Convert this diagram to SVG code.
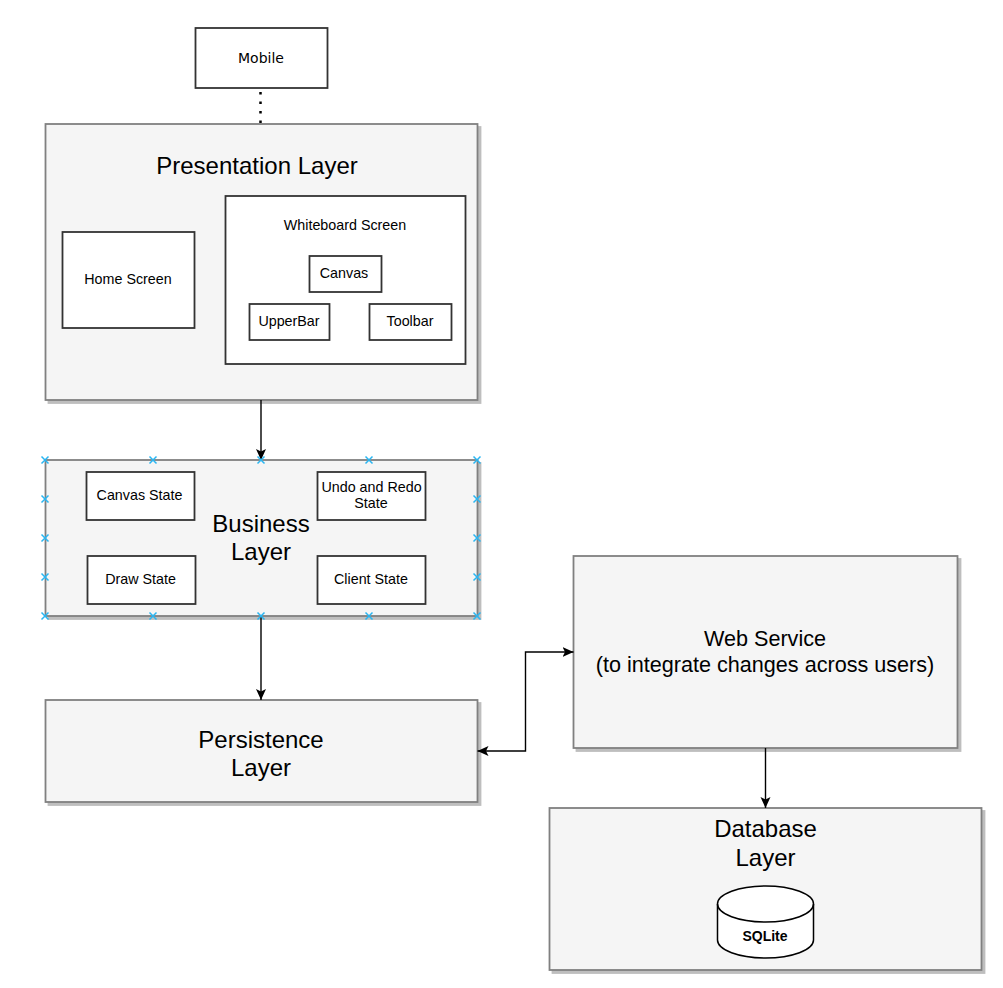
<svg xmlns="http://www.w3.org/2000/svg" width="1003" height="988" viewBox="0 0 1003 988">
<style>
text{font-family:"Liberation Sans",Arial,sans-serif;fill:#000;text-anchor:middle}
.s{font-size:14.300px}
.l{font-size:24px}
.m{font-size:21.600px}
.layer{fill:#f5f5f5;stroke:#808080;stroke-width:1.8}
.shadow{fill:#b3b3b3;stroke:#b3b3b3;stroke-width:1.8;opacity:.85}
.box{fill:#fff;stroke:#333;stroke-width:1.8}
.c{fill:none;stroke:#000;stroke-width:1.4}
.x{stroke:#29b6f2;stroke-width:1.5;fill:none}
</style>
<defs>
<marker id="a" viewBox="0 0 11 11" refX="11" refY="5.500" markerWidth="11" markerHeight="11" markerUnits="userSpaceOnUse" orient="auto-start-reverse"><path d="M0 0.500L11 5.500L0 10.500L2.500 5.500Z" fill="#000"/></marker>
<path id="h" d="M-3.500-3.500L3.500 3.500M-3.500 3.500L3.500-3.500" class="x"/>
</defs>
<rect x="0" y="0" width="1003" height="988" fill="#fff"/>
<g id="mobile"><rect x="195.500" y="28" width="132" height="60" class="box"/><text x="261" y="63" style="font-family:'DejaVu Sans',sans-serif;font-size:14px">Mobile</text></g>
<g id="presentation"><rect x="48.500" y="127" width="432" height="276" class="shadow"/><rect x="45.500" y="124" width="432" height="276" class="layer"/><text x="257" y="174" class="l">Presentation Layer</text></g>
<g id="home"><rect x="62.500" y="232" width="132" height="96" class="box"/><text x="128" y="284" class="s">Home Screen</text></g>
<g id="whiteboard"><rect x="225.500" y="196" width="240" height="168" class="box"/><text x="345" y="230" class="s">Whiteboard Screen</text></g>
<g id="canvas"><rect x="309.500" y="256" width="72" height="36" class="box"/><text x="344" y="278" class="s">Canvas</text></g>
<g id="upperbar"><rect x="249.500" y="304" width="80" height="36" class="box"/><text x="289" y="326" class="s">UpperBar</text></g>
<g id="toolbar"><rect x="369.500" y="304" width="82" height="36" class="box"/><text x="410" y="326" class="s">Toolbar</text></g>
<g id="business"><rect x="48.500" y="463" width="432" height="156" class="shadow"/><rect x="45.500" y="460" width="432" height="156" class="layer"/><text x="261" y="532" class="l">Business</text><text x="261" y="560" class="l">Layer</text></g>
<g id="canvas-state"><rect x="86.500" y="472" width="108" height="48" class="box"/><text x="139.500" y="500" class="s">Canvas State</text></g>
<g id="undo-state"><rect x="317.500" y="472" width="108" height="48" class="box"/><text x="371.500" y="492" class="s">Undo and Redo</text><text x="371" y="508" class="s">State</text></g>
<g id="draw-state"><rect x="87.500" y="556" width="108" height="48" class="box"/><text x="140.500" y="584" class="s">Draw State</text></g>
<g id="client-state"><rect x="317.500" y="556" width="108" height="48" class="box"/><text x="371" y="584" class="s">Client State</text></g>
<g id="persistence"><rect x="48.500" y="703" width="432" height="102" class="shadow"/><rect x="45.500" y="700" width="432" height="102" class="layer"/><text x="261" y="748" class="l">Persistence</text><text x="261" y="776" class="l">Layer</text></g>
<g id="webservice"><rect x="576.500" y="559" width="384" height="192" class="shadow"/><rect x="573.500" y="556" width="384" height="192" class="layer"/><text x="765" y="646" class="m">Web Service</text><text x="765" y="672" class="m">(to integrate changes across users)</text></g>
<g id="database"><rect x="552.500" y="811" width="432" height="162" class="shadow"/><rect x="549.500" y="808" width="432" height="162" class="layer"/><text x="765.500" y="837" class="l">Database</text><text x="765.500" y="866" class="l">Layer</text></g>
<g id="sqlite"><path d="M717.500 904C717.500 894 739 886 765.500 886S813.500 894 813.500 904V940C813.500 950 792 958 765.500 958S717.500 950 717.500 940Z" fill="#fff" stroke="#000" stroke-width="1.500"/><path d="M717.500 904C717.500 914 739 922 765.500 922S813.500 914 813.500 904" fill="none" stroke="#000" stroke-width="1.500"/><text x="765" y="941" style="font-weight:bold;font-size:14px">SQLite</text></g>
<g id="connectors">
<path d="M260.500 92V124" fill="none" stroke="#000" stroke-width="2.500" stroke-dasharray="2.500 7"/>
<path d="M261 400V460" class="c" marker-end="url(#a)"/>
<path d="M261 616V700" class="c" marker-end="url(#a)"/>
<path d="M477.500 751H525.500V652H573.500" class="c" marker-start="url(#a)" marker-end="url(#a)"/>
<path d="M765.500 748V808" class="c" marker-end="url(#a)"/>
</g>
<g id="handles">
<use href="#h" x="45" y="460"/><use href="#h" x="153" y="460"/><use href="#h" x="261" y="460"/><use href="#h" x="369" y="460"/><use href="#h" x="477" y="460"/>
<use href="#h" x="45" y="499"/><use href="#h" x="477" y="499"/><use href="#h" x="45" y="538"/><use href="#h" x="477" y="538"/><use href="#h" x="45" y="577"/><use href="#h" x="477" y="577"/>
<use href="#h" x="45" y="616"/><use href="#h" x="153" y="616"/><use href="#h" x="261" y="616"/><use href="#h" x="369" y="616"/><use href="#h" x="477" y="616"/>
</g>
</svg>
